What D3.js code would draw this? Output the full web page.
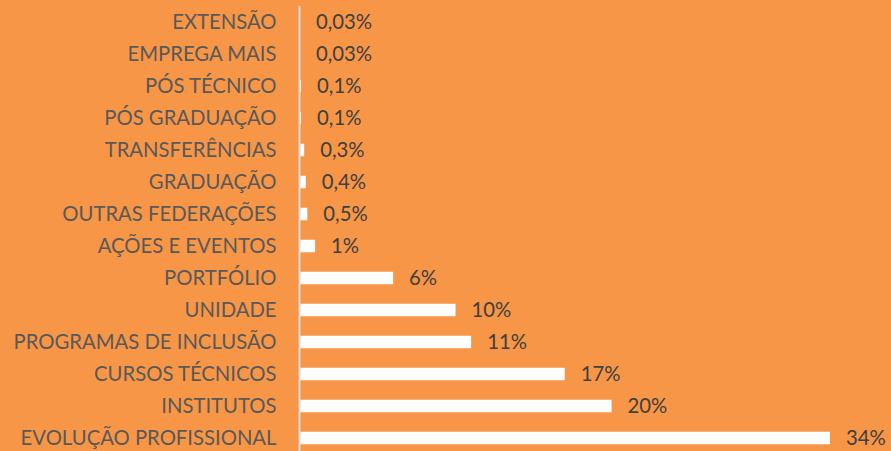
<!DOCTYPE html>
<html><head><meta charset="utf-8">
<script src="https://cdn.jsdelivr.net/npm/d3@7"></script>
<style>html,body{margin:0;padding:0;background:#F79646;}svg{display:block;}</style>
</head><body>
<svg id="chart" width="891" height="451"></svg>
<script>
const categories = ["EXTENSÃO","EMPREGA MAIS","PÓS TÉCNICO","PÓS GRADUAÇÃO","TRANSFERÊNCIAS","GRADUAÇÃO","OUTRAS FEDERAÇÕES","AÇÕES E EVENTOS","PORTFÓLIO","UNIDADE","PROGRAMAS DE INCLUSÃO","CURSOS TÉCNICOS","INSTITUTOS","EVOLUÇÃO PROFISSIONAL"];
const values = [0.03,0.03,0.1,0.1,0.3,0.4,0.5,1,6,10,11,17,20,34];
const valueLabels = ["0,03%","0,03%","0,1%","0,1%","0,3%","0,4%","0,5%","1%","6%","10%","11%","17%","20%","34%"];

(function(){
const svg = d3.select("#chart");
const W = 891, H = 451;
svg.append("rect").attr("width",W).attr("height",H).attr("fill","#F79646");

const x0 = 299.5, plotTop = 6;
const x = d3.scaleLinear().domain([0,34]).range([x0, 830]);
const y = d3.scaleBand().domain(categories).range([plotTop, plotTop + 32*14]).paddingInner(0.61).paddingOuter(0.305);

const font = "Lato, 'Open Sans', sans-serif";

svg.append("g").selectAll("rect").data(categories).join("rect")
  .attr("x", x(0))
  .attr("y", d => y(d))
  .attr("width", (d,i) => x(values[i]) - x(0))
  .attr("height", y.bandwidth())
  .attr("fill", "#ffffff");

const axis = d3.axisLeft(y).tickSize(0).tickPadding(23);
const gA = svg.append("g").attr("transform", `translate(${x0},0)`).call(axis);
gA.select(".domain").attr("stroke","#D9D9D9").attr("stroke-width",2)
  .attr("d", `M0,${plotTop}V${H+5}`);
gA.selectAll("text").attr("fill","#595959").style("font-family",font).style("font-size","19px");

const longest = gA.selectAll("text").filter(d => d === "EVOLUÇÃO PROFISSIONAL").node();
const w = longest.getComputedTextLength();
const fs = 19 * 256 / w;
gA.selectAll("text").style("font-size", fs + "px");

svg.append("g").selectAll("text").data(categories).join("text")
  .attr("x", (d,i) => x(values[i]) + 16)
  .attr("y", d => y(d) + y.bandwidth()/2)
  .attr("dy","0.35em")
  .attr("fill","#404040")
  .style("font-family",font).style("font-size", fs + "px")
  .text((d,i) => valueLabels[i]);
})();
</script>
</body></html>
